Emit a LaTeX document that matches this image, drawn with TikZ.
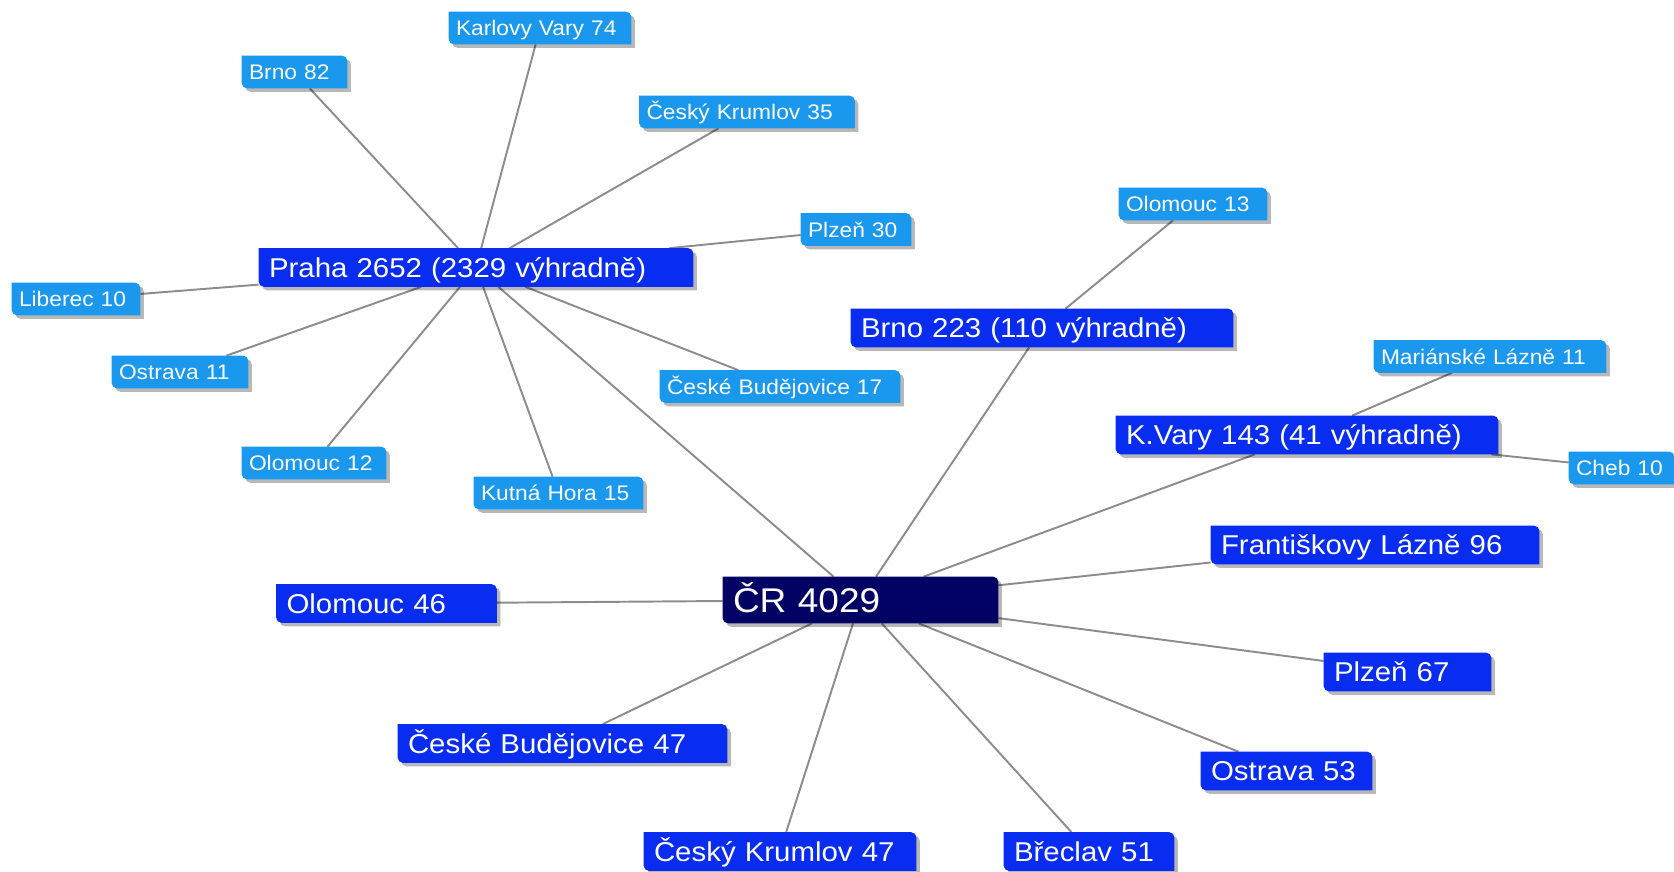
\documentclass[tikz,border=0pt]{standalone}
\usepackage{fontspec}
\setmainfont{Liberation Sans}[FakeStretch=1.08]
\usetikzlibrary{backgrounds}

\definecolor{rootnavy}{RGB}{2,2,100}
\definecolor{hubblue}{RGB}{8,44,240}
\definecolor{leafblue}{RGB}{26,152,238}
\definecolor{linegray}{RGB}{140,140,140}

% tab shaped box behind a node: shadow first, then the fill
\newcommand{\tabfill}[2]{%
  \fill[black, opacity=0.28, transform canvas={shift={(2pt,-2pt)}}] (#1.north west) -- ([xshift=-3pt]#1.north east) arc[start angle=90, end angle=0, radius=3pt] -- (#1.south east) -- ([xshift=3pt]#1.south west) arc[start angle=270, end angle=180, radius=3pt] -- cycle;
  \fill[#2] (#1.north west) -- ([xshift=-3pt]#1.north east) arc[start angle=90, end angle=0, radius=3pt] -- (#1.south east) -- ([xshift=3pt]#1.south west) arc[start angle=270, end angle=180, radius=3pt] -- cycle;
}

\begin{document}
\begin{tikzpicture}[
        every node/.style={text=white, align=left, inner ysep=0pt, text depth=0pt},
        root/.style={font=\fontsize{19.5}{23}\selectfont, inner xsep=0.2cm, minimum height=0.92cm, text height=14pt},
        hub/.style={font=\fontsize{15.5}{19}\selectfont, inner xsep=0.2cm, minimum height=0.76cm, text height=11.1pt},
        leaf/.style={font=\fontsize{12}{14}\selectfont, inner xsep=0.14cm, minimum height=0.64cm, text height=8.6pt}]
        \useasboundingbox (0,0) rectangle (33.48,-17.44);
        \begin{scope}
            \node[root, text width=5.10cm] (cr) at (17.21, -12.00) {ČR 4029};
            \node[hub, text width=8.28cm] (praha) at (9.52, -5.35) {Praha 2652 (2329 výhradně)};
            \node[hub, text width=7.24cm] (brno) at (20.84, -6.56) {Brno 223 (110 výhradně)};
            \node[hub, text width=7.24cm] (kvary) at (26.14, -8.70) {K.Vary 143 (41 výhradně)};
            \node[hub, text width=6.16cm] (frant) at (27.50, -10.90) {Františkovy Lázně 96};
            \node[hub, text width=4.00cm] (olomouc) at (7.73, -12.07) {Olomouc 46};
            \node[hub, text width=2.94cm] (plzen) at (28.15, -13.44) {Plzeň 67};
            \node[hub, text width=6.18cm] (budejovice) at (11.25, -14.87) {České Budějovice 47};
            \node[hub, text width=3.02cm] (ostrava) at (25.73, -15.42) {Ostrava 53};
            \node[hub, text width=5.04cm] (krumlov) at (15.60, -17.03) {Český Krumlov 47};
            \node[hub, text width=3.00cm] (breclav) at (21.78, -17.03) {Břeclav 51};
            \node[leaf, text width=3.36cm] (karlovy) at (10.80, -0.56) {Karlovy Vary 74};
            \node[leaf, text width=1.82cm] (brnoP) at (5.89, -1.44) {Brno 82};
            \node[leaf, text width=4.02cm] (krumlovP) at (14.94, -2.24) {Český Krumlov 35};
            \node[leaf, text width=1.92cm] (plzenP) at (17.12, -4.59) {Plzeň 30};
            \node[leaf, text width=2.28cm] (liberec) at (1.52, -5.98) {Liberec 10};
            \node[leaf, text width=2.44cm] (ostravaP) at (3.60, -7.44) {Ostrava 11};
            \node[leaf, text width=4.52cm] (budejoviceP) at (15.60, -7.73) {České Budějovice 17};
            \node[leaf, text width=2.60cm] (olomoucP) at (6.28, -9.26) {Olomouc 12};
            \node[leaf, text width=3.10cm] (kutna) at (11.17, -9.86) {Kutná Hora 15};
            \node[leaf, text width=2.68cm] (olomoucB) at (23.86, -4.08) {Olomouc 13};
            \node[leaf, text width=4.36cm] (marianske) at (29.80, -7.13) {Mariánské Lázně 11};
            \node[leaf, text width=1.82cm] (cheb) at (32.43, -9.36) {Cheb 10};
        \end{scope}
        \begin{scope}[on background layer, every edge/.style={draw=linegray, line width=1.1pt}]
            \path [-] (cr) edge (praha);
            \path [-] (cr) edge (brno);
            \path [-] (cr) edge (kvary);
            \path [-] (cr) edge (frant);
            \path [-] (cr) edge (olomouc);
            \path [-] (cr) edge (plzen);
            \path [-] (cr) edge (budejovice);
            \path [-] (cr) edge (ostrava);
            \path [-] (cr) edge (krumlov);
            \path [-] (cr) edge (breclav);
            \path [-] (praha) edge (karlovy);
            \path [-] (praha) edge (brnoP);
            \path [-] (praha) edge (krumlovP);
            \path [-] (praha) edge (plzenP);
            \path [-] (praha) edge (liberec);
            \path [-] (praha) edge (ostravaP);
            \path [-] (praha) edge (budejoviceP);
            \path [-] (praha) edge (olomoucP);
            \path [-] (praha) edge (kutna);
            \path [-] (brno) edge (olomoucB);
            \path [-] (kvary) edge (marianske);
            \path [-] (kvary) edge (cheb);
            % boxes
            \tabfill{cr}{rootnavy}
            \foreach \n in {praha, brno, kvary, frant, olomouc, plzen, budejovice, ostrava, krumlov, breclav}
                {\tabfill{\n}{hubblue}}
            \foreach \n in {karlovy, brnoP, krumlovP, plzenP, liberec, ostravaP, budejoviceP, olomoucP, kutna, olomoucB, marianske, cheb}
                {\tabfill{\n}{leafblue}}
        \end{scope}
    \end{tikzpicture}
\end{document}
